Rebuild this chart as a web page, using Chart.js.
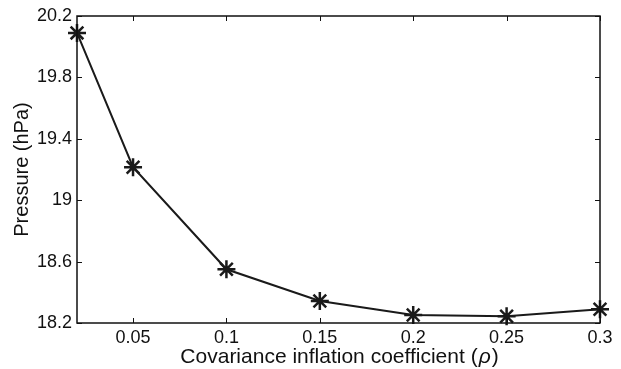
<!DOCTYPE html>
<html>
<head>
<meta charset="utf-8">
<script src="https://cdn.jsdelivr.net/npm/chart.js@4.4.1/dist/chart.umd.min.js"></script>
<style>
  html, body { margin: 0; padding: 0; background: #fff; }
  #wrap { width: 621px; height: 369px; }
</style>
</head>
<body>
<div id="wrap"><canvas id="chart" width="621" height="369"></canvas></div>
<script>
// data
const rhoValues = [0.02, 0.05, 0.1, 0.15, 0.2, 0.25, 0.3];
const pressure = [20.09, 19.215, 18.55, 18.343, 18.252, 18.244, 18.289];
const xTicks = [0.05, 0.1, 0.15, 0.2, 0.25, 0.3];
const yTicks = [18.2, 18.6, 19, 19.4, 19.8, 20.2];

const FONT = 'Liberation Sans, Arial, Helvetica, sans-serif';

// box + inward ticks on all four sides, like the matlab axes
const boxTicks = {
    id: 'boxTicks',
    afterDraw(chart) {
        const { ctx, chartArea: a, scales } = chart;
        ctx.save();
        ctx.strokeStyle = '#111';
        ctx.lineWidth = 1.5;
        ctx.strokeRect(a.left, a.top, a.right - a.left, a.bottom - a.top);
        ctx.lineWidth = 1;
        const len = 5;
        ctx.beginPath();
        xTicks.forEach(v => {
            const px = Math.round(scales.x.getPixelForValue(v)) + 0.5;
            ctx.moveTo(px, a.bottom); ctx.lineTo(px, a.bottom - len);
            ctx.moveTo(px, a.top); ctx.lineTo(px, a.top + len);
        });
        yTicks.forEach(v => {
            const py = Math.round(scales.y.getPixelForValue(v)) + 0.5;
            ctx.moveTo(a.left, py); ctx.lineTo(a.left + len, py);
            ctx.moveTo(a.right, py); ctx.lineTo(a.right - len, py);
        });
        ctx.stroke();

        // x title with italic rho
        const cx = (a.left + a.right) / 2;
        const base = 363;
        const f1 = '21px ' + FONT;
        const f2 = 'italic 21px ' + FONT;
        const t1 = 'Covariance inflation coefficient (';
        const t2 = 'ρ';
        const t3 = ')';
        ctx.fillStyle = '#111';
        ctx.textBaseline = 'alphabetic';
        ctx.font = f1;
        const w1 = ctx.measureText(t1).width, w3 = ctx.measureText(t3).width;
        ctx.font = f2;
        const w2 = ctx.measureText(t2).width;
        let x0 = cx - (w1 + w2 + w3) / 2;
        ctx.textAlign = 'left';
        ctx.font = f1; ctx.fillText(t1, x0, base);
        ctx.font = f2; ctx.fillText(t2, x0 + w1 + 1, base);
        ctx.font = f1; ctx.fillText(t3, x0 + w1 + w2 + 2, base);
        ctx.restore();
    }
};

new Chart(document.getElementById('chart'), {
    type: 'line',
    data: {
        datasets: [{
            data: rhoValues.map((x, i) => ({ x: x, y: pressure[i] })),
            borderColor: '#1a1a1a',
            borderWidth: 2,
            pointStyle: 'star',
            pointRadius: 9,
            pointBorderWidth: 2.5,
            pointBorderColor: '#1a1a1a',
            pointBackgroundColor: '#1a1a1a',
            tension: 0,
            clip: false
        }]
    },
    options: {
        responsive: false,
        animation: false,
        devicePixelRatio: 1,
        layout: { padding: { top: 16, right: 21, left: 0, bottom: 0 } },
        plugins: { legend: { display: false }, tooltip: { enabled: false } },
        scales: {
            x: {
                type: 'linear',
                min: 0.02,
                max: 0.3,
                afterBuildTicks: s => { s.ticks = xTicks.map(v => ({ value: v })); },
                afterFit: s => { s.height = 46; },
                grid: { display: false, drawTicks: false },
                border: { display: false },
                ticks: {
                    color: '#111',
                    font: { family: FONT, size: 18 },
                    padding: 4,
                    maxRotation: 0,
                    callback: v => String(+v.toFixed(2))
                }
            },
            y: {
                min: 18.2,
                max: 20.2,
                afterBuildTicks: s => { s.ticks = yTicks.map(v => ({ value: v })); },
                afterFit: s => { s.width = 77; },
                grid: { display: false, drawTicks: false },
                border: { display: false },
                ticks: {
                    color: '#111',
                    font: { family: FONT, size: 18 },
                    padding: 5,
                    callback: v => String(+v.toFixed(1))
                },
                title: {
                    display: true,
                    text: 'Pressure (hPa)',
                    color: '#111',
                    font: { family: FONT, size: 20 },
                    padding: { top: 10, bottom: 0 }
                }
            }
        }
    },
    plugins: [boxTicks]
});
</script>
</body>
</html>
